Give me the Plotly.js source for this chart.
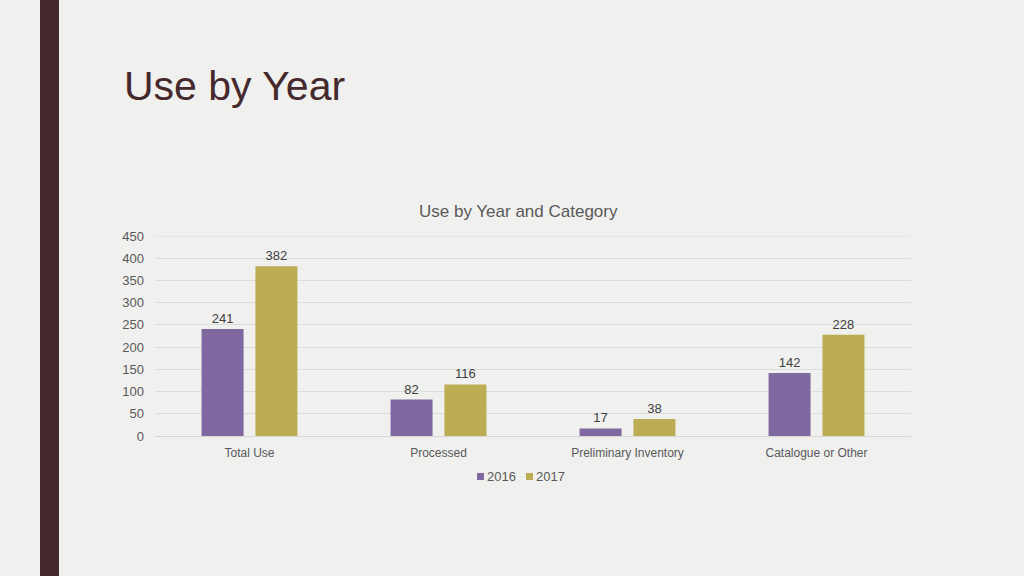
<!DOCTYPE html>
<html>
<head>
<meta charset="utf-8">
<script src="https://cdn.plot.ly/plotly-3.0.1.min.js"></script>
<style>html,body{margin:0;padding:0;background:#f0f0ee;}#chart{width:1024px;height:576px;}</style>
</head>
<body>
<div id="chart"></div>
<script>
const categories = ["Total Use", "Processed", "Preliminary Inventory", "Catalogue or Other"];
const seriesNames = ["2016", "2017"];
const values2016 = [241, 82, 17, 142];
const values2017 = [382, 116, 38, 228];
const yTicks = [0, 50, 100, 150, 200, 250, 300, 350, 400, 450];

const FONT = "Liberation Sans, Arial, sans-serif";
const colors = ["#8068a0", "#bcad55"];

const traces = [values2016, values2017].map((vals, i) => ({
  type: "bar",
  name: seriesNames[i],
  x: categories,
  y: vals,
  marker: {color: colors[i]},
  text: vals.map(String),
  textposition: "outside",
  textfont: {family: FONT, size: 13, color: "#404040"},
  cliponaxis: false,
  hoverinfo: "none"
}));

const L = 155, R = 911, T = 236, B = 436;
const px = x => (x - L) / (R - L);
const py = y => (B - y) / (B - T);

// legend (custom, compact like the original)
const legendX = [477, 526];
const legendShapes = seriesNames.map((n, i) => ({
  type: "rect", xref: "paper", yref: "paper",
  x0: px(legendX[i]), x1: px(legendX[i] + 7), y0: py(473), y1: py(480),
  fillcolor: colors[i], line: {width: 0}
}));
const legendAnns = seriesNames.map((n, i) => ({
  xref: "paper", yref: "paper", x: px(legendX[i] + 8), y: py(476),
  xanchor: "left", yanchor: "middle", text: n, showarrow: false,
  font: {family: FONT, size: 13, color: "#595959"}
}));

const layout = {
  width: 1024, height: 576,
  paper_bgcolor: "#f0f0ee",
  plot_bgcolor: "#f0f0ee",
  margin: {l: L, r: 1024 - R, t: T, b: 576 - B, pad: 0},
  barmode: "group",
  bargap: 0.43,
  bargroupgap: 0.22,
  showlegend: false,
  xaxis: {
    type: "category",
    showgrid: false, zeroline: false, showline: false,
    ticks: "", ticklen: 0,
    ticklabelstandoff: 8,
    tickfont: {family: FONT, size: 12, color: "#595959"},
    fixedrange: true
  },
  yaxis: {
    range: [0, 450],
    tickvals: yTicks,
    ticktext: yTicks.map(String),
    showgrid: true, gridcolor: "#dcdcda", gridwidth: 1,
    zeroline: true, zerolinecolor: "#d4d4d2", zerolinewidth: 1,
    showline: false, ticks: "",
    ticklabelstandoff: 10,
    tickfont: {family: FONT, size: 13, color: "#595959"},
    fixedrange: true
  },
  shapes: [
    {type: "rect", xref: "paper", yref: "paper", x0: px(40), x1: px(59), y0: py(0), y1: py(576),
     fillcolor: "#45292d", line: {width: 0}, layer: "above"},
    {type: "line", xref: "paper", yref: "y", x0: 0, x1: 1, y0: yTicks[yTicks.length - 1], y1: yTicks[yTicks.length - 1],
     line: {color: "#dcdcda", width: 1}, layer: "below"}
  ].concat(legendShapes),
  annotations: [
    {xref: "paper", yref: "paper", x: px(122), y: py(86), xanchor: "left", yanchor: "middle",
     text: "Use by Year", showarrow: false,
     font: {family: FONT, size: 41, color: "#45292d"}},
    {xref: "paper", yref: "paper", x: px(518), y: py(212), xanchor: "center", yanchor: "middle",
     text: "Use by Year and Category", showarrow: false,
     font: {family: FONT, size: 17, color: "#595959"}}
  ].concat(legendAnns)
};

Plotly.newPlot("chart", traces, layout, {displayModeBar: false, staticPlot: true});
</script>
</body>
</html>
